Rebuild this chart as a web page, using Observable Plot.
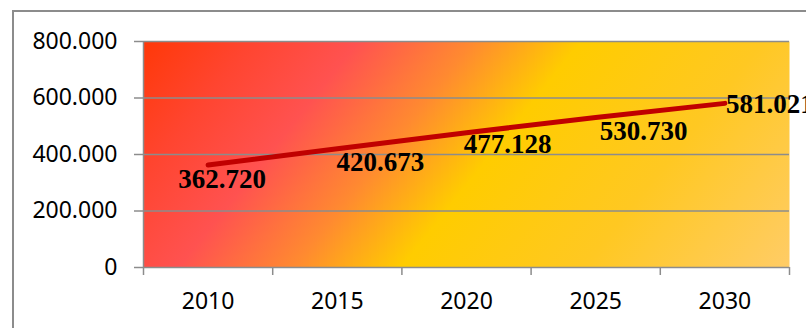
<!DOCTYPE html>
<html>
<head>
<meta charset="utf-8">
<script src="https://cdn.jsdelivr.net/npm/d3@7"></script>
<script src="https://cdn.jsdelivr.net/npm/@observablehq/plot@0.6"></script>
<style>
  html, body { margin: 0; padding: 0; background: #fff; overflow: hidden; width: 806px; height: 328px; }
  #frame { position: absolute; left: 12px; top: 10px; width: 1000px; height: 600px; border-top: 2px solid #8c8c8c; border-left: 2px solid #8c8c8c; }
  #chart { position: absolute; left: 0; top: 0; }
</style>
</head>
<body>
<div id="frame"></div>
<div id="chart"></div>
<script>
// Data
const years = [2010, 2015, 2020, 2025, 2030];
const values = [362720, 420673, 477128, 530730, 581021];
const yTicks = [0, 200000, 400000, 600000, 800000];

// Label placement offsets (styling only)
const labelDx = [14, 43, 41, 48, 1];
const labelDy = [14, 14, 12, 14, 1];
const labelAnchor = ["middle", "middle", "middle", "middle", "start"];

const W = 806, H = 328;
const mL = 143, mR = 17, mT = 41, mB = 61;

const fmt = v => v === 0 ? "0" : d3.format(",")(v).replace(/,/g, ".");
const data = years.map((y, i) => ({year: y, value: values[i]}));
const half = (years[1] - years[0]) / 2;
const bounds = [...years.map(y => y - half), years[years.length - 1] + half];
const grey = "#8c8c8c";

const labelMarks = data.map((d, i) => Plot.text([d], {
  x: "year", y: "value", text: d => fmt(d.value),
  dx: labelDx[i], dy: labelDy[i], textAnchor: labelAnchor[i],
  fontFamily: "Liberation Serif", fontWeight: "bold", fontSize: 27, fill: "black"
}));

const chart = Plot.plot({
  width: W, height: H,
  marginLeft: mL, marginRight: mR, marginTop: mT, marginBottom: mB,
  style: {fontFamily: "Noto Sans", fontSize: "23px", background: "transparent", color: "black", overflow: "visible"},
  x: {type: "linear", domain: [bounds[0], bounds[bounds.length - 1]], axis: null, label: null},
  y: {domain: [0, 800000], axis: null, label: null},
  marks: [
    Plot.frame({fill: "url(#bggrad)"}),
    Plot.gridY(yTicks.slice(1), {stroke: grey, strokeOpacity: 1, strokeWidth: 1.5}),
    Plot.ruleY([0], {stroke: grey, strokeWidth: 1.5}),
    Plot.ruleX([bounds[0]], {stroke: grey, strokeWidth: 1.5}),
    Plot.axisY({ticks: yTicks, tickSize: 9, tickPadding: 17, tickFormat: fmt, stroke: grey, strokeWidth: 1.5, fill: "black", label: null}),
    Plot.axisX({ticks: bounds, tickSize: 8, tickFormat: () => "", stroke: grey, strokeWidth: 1.5, label: null}),
    Plot.axisX({ticks: years, tickSize: 0, tickPadding: 25, tickFormat: d => String(d), fill: "black", label: null}),
    Plot.line(data, {x: "year", y: "value", stroke: "#C00000", strokeWidth: 5}),
    ...labelMarks
  ]
});

// gradient background
const ns = "http://www.w3.org/2000/svg";
const pw = W - mL - mR;
const ux = 0.782, uy = 0.623;
const defs = document.createElementNS(ns, "defs");
const g = document.createElementNS(ns, "linearGradient");
g.setAttribute("id", "bggrad");
g.setAttribute("gradientUnits", "userSpaceOnUse");
g.setAttribute("x1", mL); g.setAttribute("y1", mT);
g.setAttribute("x2", mL + pw * ux); g.setAttribute("y2", mT + pw * uy);
[[0, "#FF3808"], [0.13, "#FF4530"], [0.26, "#FF5250"], [0.40, "#FF8A30"], [0.53, "#FFCC00"], [0.75, "#FFC822"], [1, "#FFCC66"]]
  .forEach(([o, c]) => {
    const s = document.createElementNS(ns, "stop");
    s.setAttribute("offset", o);
    s.setAttribute("stop-color", c);
    g.appendChild(s);
  });
defs.appendChild(g);
chart.insertBefore(defs, chart.firstChild);
document.getElementById("chart").appendChild(chart);
</script>
</body>
</html>
